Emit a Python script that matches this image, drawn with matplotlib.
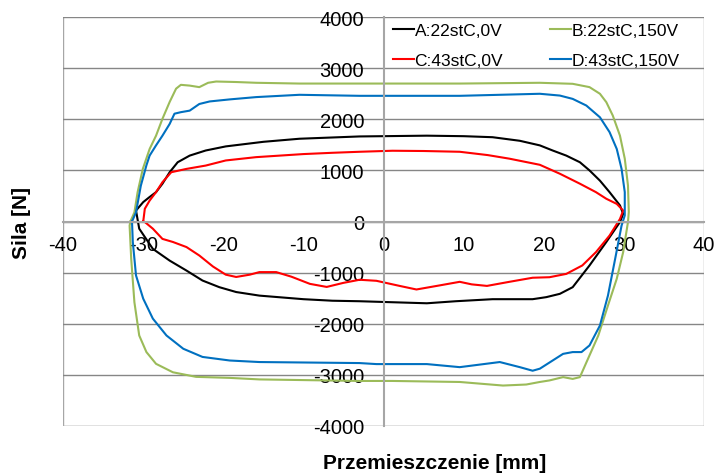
import numpy as np
import matplotlib
matplotlib.use("Agg")
import matplotlib.pyplot as plt

plt.rcParams['font.family'] = ['Liberation Sans', 'DejaVu Sans']
plt.rcParams['axes.unicode_minus'] = False

# Series A: 22stC, 0V (upper branch left->right, lower branch right->left)
a_up_x = [-30.9, -30.0, -29.2, -28.4, -27.6, -26.7, -25.7, -24.2, -22.2, -19.7, -15, -10.5, -3, 5.4, 10, 13.6, 17, 19.5, 21.1, 22.8, 24.5, 25.7, 27, 28.2, 29.5, 29.9, 29.5]
a_up_y = [215, 380, 480, 575, 740, 965, 1160, 1290, 1390, 1470, 1560, 1620, 1665, 1680, 1670, 1650, 1580, 1490, 1390, 1290, 1160, 1000, 800, 575, 315, 150, -10]
a_lo_x = [27.8, 25.7, 23.6, 22, 20.3, 18.6, 13.6, 9, 5.4, -3, -6.4, -10, -15.5, -18.4, -20.5, -22.6, -24.6, -26.7, -28.8, -30.5, -30.9]
a_lo_y = [-400, -860, -1285, -1415, -1480, -1520, -1520, -1560, -1600, -1560, -1550, -1520, -1450, -1380, -1285, -1155, -960, -765, -535, -140, 215]

# Series B: 22stC, 150V
b_up_x = [-31.6, -31.1, -30.7, -30.05, -29.2, -28.4, -27.6, -26.7, -25.9, -25.3, -24.2, -23, -21.9, -20.9, -18.4, -15.9, -10.5, -3, 9.5, 19.5, 23.6, 25.7, 27, 27.8, 28.6, 29.5, 30.1, 30.5, 30.6, 30.5]
b_up_y = [0, 180, 575, 1030, 1420, 1680, 2010, 2340, 2600, 2675, 2660, 2630, 2715, 2740, 2730, 2715, 2700, 2700, 2700, 2715, 2695, 2630, 2500, 2335, 2075, 1680, 1230, 705, 185, -10]
b_lo_x = [29.9, 29.1, 28, 26.8, 25.5, 24.5, 23.6, 22.4, 20.7, 19.5, 17.8, 14.9, 9.5, 1.1, -3, -15.5, -19.2, -23.4, -26.3, -28.4, -29.6, -30.5, -31.1, -31.5, -31.7, -31.6]
b_lo_y = [-600, -1120, -1645, -2230, -2690, -3045, -3080, -3045, -3110, -3140, -3190, -3210, -3140, -3120, -3120, -3090, -3060, -3040, -2950, -2785, -2555, -2230, -1580, -730, -80, 0]

# Series C: 43stC, 0V
c_up_x = [-30.0, -29.8, -29.2, -28.4, -27.6, -26.5, -24.6, -22.2, -19.7, -15.9, -10, -6.4, -3, 1.1, 5, 9.5, 13, 15.7, 19.5, 22, 24.5, 26.5, 27.8, 29.1, 29.9, 29.5]
c_up_y = [0, 250, 410, 575, 770, 965, 1030, 1095, 1195, 1260, 1320, 1345, 1365, 1385, 1380, 1365, 1300, 1230, 1110, 935, 740, 575, 445, 345, 215, 50]
c_lo_x = [28.2, 26.5, 24.8, 22.8, 20.7, 18.6, 15.7, 12.9, 11, 9.5, 7, 4.1, 2, -0.9, -3, -5, -7.1, -9.2, -11.5, -13.4, -15.5, -16.7, -18.4, -19.7, -21.3, -23, -24.6, -26.3, -27.6, -28.8, -29.8, -30.0]
c_lo_y = [-275, -600, -860, -1025, -1090, -1100, -1180, -1260, -1230, -1180, -1250, -1330, -1260, -1160, -1140, -1200, -1280, -1220, -1080, -990, -990, -1040, -1085, -1040, -880, -665, -500, -400, -340, -140, -10, 0]

# Series D: 43stC, 150V
d_up_x = [-31.4, -30.9, -30.3, -29.6, -29.2, -28.4, -27.6, -26.7, -26.1, -25.3, -24.2, -23, -21.7, -19.2, -15.9, -10.5, -3, 9.5, 19.5, 22, 23.6, 25.3, 27, 28.2, 29.1, 29.7, 30.1, 30.1, 29.7]
d_up_y = [0, 180, 700, 1100, 1290, 1490, 1680, 1910, 2110, 2140, 2170, 2300, 2350, 2390, 2435, 2480, 2460, 2460, 2500, 2465, 2400, 2270, 2040, 1750, 1420, 1030, 575, 120, -80]
d_lo_x = [28.9, 28, 27, 25.7, 24.7, 23.6, 22.4, 21.1, 19.5, 18.6, 17, 14.5, 12, 9.5, 5.4, -0.9, -3, -15.5, -19.2, -22.6, -25, -27.1, -28.8, -30, -30.9, -31.3, -31.4]
d_lo_y = [-730, -1450, -2035, -2425, -2555, -2555, -2590, -2720, -2880, -2920, -2850, -2750, -2800, -2850, -2790, -2790, -2770, -2750, -2720, -2650, -2490, -2230, -1900, -1510, -1055, -400, 0]

labels = ['A:22stC,0V', 'B:22stC,150V', 'C:43stC,0V', 'D:43stC,150V']
colors = ['#000000', '#9BBB59', '#FF0000', '#0070C0']
series = [
    (a_up_x + a_lo_x, a_up_y + a_lo_y),
    (b_up_x + b_lo_x, b_up_y + b_lo_y),
    (c_up_x + c_lo_x, c_up_y + c_lo_y),
    (d_up_x + d_lo_x, d_up_y + d_lo_y),
]

fig = plt.figure(figsize=(7.17, 4.77), dpi=100)
ax = fig.add_axes([0.088, 0.105, 0.894, 0.857])

lines = []
for (xs, ys), lab, col in zip(series, labels, colors):
    ln, = ax.plot(xs, ys, color=col, lw=1.5, label=lab, solid_joinstyle='round')
    lines.append(ln)

ax.set_xlim(-40, 40)
ax.set_ylim(-4000, 4000)
ax.set_xticks(np.arange(-40, 41, 10))
ax.set_yticks(np.arange(-4000, 4001, 1000))

# grid + outer box
ax.grid(axis='y', color='#868686', lw=1.0)
ax.set_axisbelow(True)
for x0 in (-40, 40):
    ax.axvline(x0, color='#a6a6a6', lw=1.0, zorder=0.5)
ax.axhline(-4000, color='#e0e0e0', lw=1.0, zorder=0.5)

# axes crossing at zero
ax.spines['left'].set_position(('data', 0))
ax.spines['bottom'].set_position(('data', 0))
for s in ('left', 'bottom'):
    ax.spines[s].set_color('#a6a6a6')
    ax.spines[s].set_linewidth(1.5)
ax.spines['top'].set_visible(False)
ax.spines['right'].set_visible(False)

ax.tick_params(axis='y', length=0, pad=14, labelsize=14.5)
ax.tick_params(axis='x', length=0, pad=10, labelsize=14.5)
for t in ax.get_yticklabels() + ax.get_xticklabels():
    t.set_zorder(5)

ax.set_xlabel('Przemieszczenie [mm]', fontsize=15, fontweight='bold')
ax.set_ylabel('Sila [N]', fontsize=15, fontweight='bold')
ax.xaxis.set_label_coords(0.58, -0.066)
ax.yaxis.set_label_coords(-0.05, 0.5)

order = [0, 2, 1, 3]
ax.legend([lines[i] for i in order], [labels[i] for i in order], ncol=2,
          frameon=False, fontsize=12.5, handlelength=1.2, handletextpad=0.05,
          columnspacing=2.7, labelspacing=0.85,
          loc='upper left', bbox_to_anchor=(0.49, 1.025))

plt.savefig('out.png', dpi=100)
